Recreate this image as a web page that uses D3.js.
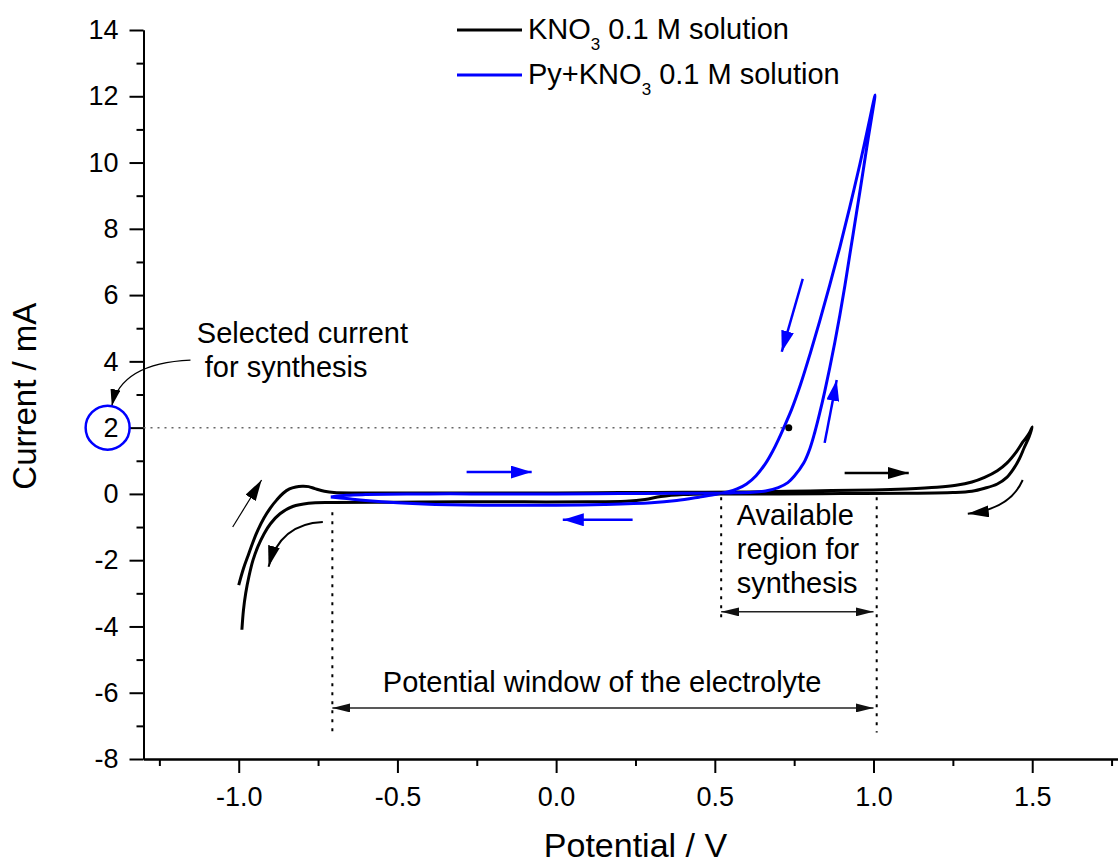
<!DOCTYPE html>
<html><head><meta charset="utf-8">
<script src="https://cdn.jsdelivr.net/npm/d3@7"></script>
<style>body{margin:0;background:#fff}svg{display:block;font-family:"Liberation Sans",Arial,sans-serif}</style>
</head><body><svg id="c" width="1118" height="865"></svg>
<script>
// ---- data ----
const kno3V = [-1.0,-0.985,-0.97,-0.955,-0.94,-0.92,-0.90,-0.88,-0.86,-0.84,-0.82,-0.80,-0.78,-0.76,-0.73,-0.70,-0.6,-0.4,-0.2,0.0,0.2,0.4,0.6,0.8,1.0,1.1,1.2,1.26,1.31,1.35,1.39,1.42,1.45,1.47,1.49,1.5,
  1.49,1.475,1.46,1.44,1.42,1.39,1.35,1.31,1.25,1.1,0.9,0.7,0.5,0.4,0.33,0.28,0.22,0.1,-0.1,-0.3,-0.5,-0.7,-0.78,-0.83,-0.87,-0.9,-0.92,-0.94,-0.955,-0.968,-0.978,-0.985,-0.99];
const kno3I = [-2.75,-2.25,-1.85,-1.45,-1.1,-0.72,-0.42,-0.18,0.02,0.15,0.21,0.23,0.22,0.16,0.08,0.04,0.03,0.03,0.03,0.03,0.04,0.05,0.06,0.09,0.12,0.15,0.2,0.26,0.36,0.5,0.7,0.93,1.27,1.56,1.82,2.02,
  1.72,1.4,1.07,0.74,0.5,0.3,0.17,0.08,0.04,0.02,0.01,0.0,0.0,-0.02,-0.08,-0.17,-0.22,-0.24,-0.24,-0.24,-0.25,-0.26,-0.28,-0.38,-0.6,-0.9,-1.2,-1.6,-2.0,-2.5,-3.0,-3.5,-4.1];
const pyV = [-0.71,-0.66,-0.6,-0.4,-0.2,0.0,0.2,0.4,0.55,0.62,0.66,0.70,0.73,0.75,0.78,0.80,0.815,0.83,0.846,0.862,0.878,0.894,0.91,0.925,0.941,0.957,0.97,0.983,0.995,1.005,
  0.98,0.957,0.925,0.894,0.862,0.83,0.80,0.77,0.742,0.715,0.70,0.683,0.66,0.63,0.60,0.57,0.54,0.5,0.45,0.38,0.3,0.15,0.0,-0.2,-0.4,-0.5,-0.6,-0.66,-0.71];
const pyI = [-0.09,-0.04,-0.02,0.0,0.0,0.0,0.01,0.02,0.03,0.05,0.09,0.19,0.34,0.53,0.93,1.38,1.86,2.42,3.08,3.8,4.57,5.4,6.3,7.2,8.16,9.12,9.92,10.72,11.42,12.04,
  10.95,9.95,8.65,7.45,6.3,5.2,4.22,3.3,2.55,1.95,1.63,1.3,0.92,0.55,0.3,0.15,0.06,-0.02,-0.1,-0.2,-0.27,-0.32,-0.34,-0.34,-0.31,-0.27,-0.2,-0.14,-0.09];
const seriesNames = ["KNO", "Py+KNO"];
const seriesSuffix = " 0.1 M solution";
const xMajorTicks = [-1.0,-0.5,0.0,0.5,1.0,1.5];
const xMinorTicks = [-1.25,-0.75,-0.25,0.25,0.75,1.25,1.75];
const yMajorTicks = [-8,-6,-4,-2,0,2,4,6,8,10,12,14];
const yMinorTicks = [-7,-5,-3,-1,1,3,5,7,9,11,13];
const selectedCurrent = 2;
const selectedPotential = 0.733;
const windowRange = [-0.705, 1.0];
const availableRange = [0.52, 1.0];

// ---- scales ----
const svg = d3.select("#c");
const x = d3.scaleLinear().domain([-1.3, 1.8]).range([143.5, 143.5 + 3.1*317.4]);
const y = d3.scaleLinear().domain([-8, 14]).range([759, 30]);
const BLUE = "#0000ff";
const FONT = "'Liberation Sans', Arial, sans-serif";

svg.append("rect").attr("width",1118).attr("height",865).attr("fill","#fff");

const defs = svg.append("defs");
function marker(id, color, len, wid) {
  defs.append("marker").attr("id", id).attr("markerUnits","userSpaceOnUse")
    .attr("viewBox", `0 0 ${len} ${wid}`).attr("refX", len).attr("refY", wid/2)
    .attr("markerWidth", len).attr("markerHeight", wid).attr("orient","auto-start-reverse")
    .append("path").attr("d", `M0,0L${len},${wid/2}L0,${wid}Z`).attr("fill", color);
}
marker("hk","#000",21,12);
marker("hb",BLUE,21,13);
marker("hs","#000",17,10);
marker("hd","#111",18,9);

// ---- axes ----
function styleAxis(g){ g.selectAll("path,line").attr("stroke","#000").attr("stroke-width",2); g.selectAll("text").attr("fill","#000").attr("font-family",FONT).attr("font-size",27); }
svg.append("g").attr("transform",`translate(${x(-1.3)},0)`)
  .call(d3.axisLeft(y).tickValues(yMinorTicks).tickSize(7).tickSizeOuter(0).tickFormat(""))
  .call(styleAxis);
svg.append("g").attr("transform",`translate(${x(-1.3)},0)`)
  .call(d3.axisLeft(y).tickValues(yMajorTicks).tickSize(14).tickSizeOuter(0).tickPadding(11).tickFormat(d=>String(d)))
  .call(styleAxis);
svg.append("g").attr("transform",`translate(0,${y(-8)})`)
  .call(d3.axisBottom(x).tickValues(xMinorTicks).tickSize(7).tickSizeOuter(0).tickFormat(""))
  .call(styleAxis);
svg.append("g").attr("transform",`translate(0,${y(-8)})`)
  .call(d3.axisBottom(x).tickValues(xMajorTicks).tickSize(14).tickSizeOuter(0).tickPadding(14).tickFormat(d=>d.toFixed(1)))
  .call(styleAxis);

svg.append("text").attr("transform",`translate(36,${y(2.95)}) rotate(-90)`).attr("text-anchor","middle")
  .attr("font-size",33).attr("font-family",FONT).text("Current / mA");
svg.append("text").attr("x",x(0.25)).attr("y",857).attr("text-anchor","middle")
  .attr("font-size",34).attr("font-family",FONT).text("Potential / V");

// ---- guide lines ----
svg.append("line").attr("x1",x(-1.3)).attr("x2",x(0.72)).attr("y1",y(selectedCurrent)).attr("y2",y(selectedCurrent))
  .attr("stroke","#666").attr("stroke-width",1.5).attr("stroke-dasharray","2,5");
[[windowRange[0],-0.55,-7.2],[availableRange[0],-0.1,-3.9],[1.01,-0.1,-7.2]].forEach(([v,a,b])=>{
  svg.append("line").attr("x1",x(v)).attr("x2",x(v)).attr("y1",y(a)).attr("y2",y(b))
    .attr("stroke","#000").attr("stroke-width",2).attr("stroke-dasharray","3,6");
});

// ---- data curves ----
const line = d3.line().x(d=>x(d[0])).y(d=>y(d[1])).curve(d3.curveCatmullRom.alpha(0.5));
svg.append("path").attr("d", line(kno3V.map((v,i)=>[v,kno3I[i]]))).attr("fill","none").attr("stroke","#000").attr("stroke-width",3).attr("stroke-linejoin","round");
svg.append("path").attr("d", line(pyV.map((v,i)=>[v,pyI[i]]))).attr("fill","none").attr("stroke",BLUE).attr("stroke-width",3).attr("stroke-linejoin","round");

svg.append("circle").attr("cx",x(selectedPotential)).attr("cy",y(selectedCurrent)).attr("r",3.5).attr("fill","#000");

// ---- arrows ----
function arrow(pts, color, w, mk, start){
  const p = d3.path();
  p.moveTo(x(pts[0][0]),y(pts[0][1]));
  if (pts.length===2) p.lineTo(x(pts[1][0]),y(pts[1][1]));
  else p.quadraticCurveTo(x(pts[1][0]),y(pts[1][1]),x(pts[2][0]),y(pts[2][1]));
  const el = svg.append("path").attr("d",p.toString()).attr("fill","none").attr("stroke",color).attr("stroke-width",w).attr("marker-end",`url(#${mk})`);
  if (start) el.attr("marker-start",`url(#${mk})`);
}
arrow([[-0.282,0.66],[-0.077,0.66]], BLUE, 2.5, "hb");
arrow([[0.241,-0.78],[0.021,-0.78]], BLUE, 2.5, "hb");
arrow([[0.777,6.49],[0.711,4.29]], BLUE, 2.5, "hb");
arrow([[0.846,1.54],[0.884,3.44]], BLUE, 2.5, "hb");
arrow([[0.909,0.63],[1.111,0.63]], "#000", 2.5, "hk");
arrow([[1.470,0.42],[1.43,-0.45],[1.297,-0.6]], "#000", 2, "hk");
arrow([[-1.019,-1.0],[-0.928,0.42]], "#000", 1.2, "hk");
arrow([[-0.735,-0.85],[-0.87,-0.9],[-0.906,-2.2]], "#000", 2, "hk");
arrow([[-1.152,4.04],[-1.37,3.95],[-1.40,2.65]], "#000", 1.2, "hs");
arrow([[windowRange[0],-6.46],[windowRange[1],-6.46]], "#222", 1.5, "hd", true);
arrow([[availableRange[0],-3.56],[availableRange[1],-3.56]], "#222", 1.5, "hd", true);

// circle around "2"
svg.append("circle").attr("cx",x(-1.413)).attr("cy",y(selectedCurrent)).attr("r",22)
  .attr("fill","none").attr("stroke",BLUE).attr("stroke-width",2.5);

// ---- annotation texts ----
function txt(v,i,s,anchor){ svg.append("text").attr("x",x(v)).attr("y",y(i)).attr("font-size",29).attr("font-family",FONT).attr("text-anchor",anchor||"start").text(s); }
txt(-1.132,4.556,"Selected current");
txt(-1.107,3.53,"for synthesis");
txt(0.569,-0.936,"Available");
txt(0.569,-1.96,"region for");
txt(0.569,-2.99,"synthesis");
txt(-0.546,-5.975,"Potential window of the electrolyte");

// ---- legend ----
const legColors = ["#000", BLUE];
seriesNames.forEach((nm,k)=>{
  const ly = 30 + k*45;
  svg.append("line").attr("x1",457).attr("x2",522).attr("y1",ly).attr("y2",ly).attr("stroke",legColors[k]).attr("stroke-width",3);
  const t = svg.append("text").attr("x",528).attr("y",ly+9).attr("font-size",29).attr("font-family",FONT);
  t.append("tspan").text(nm);
  t.append("tspan").attr("font-size",17).attr("dy",11).text("3");
  t.append("tspan").attr("dy",-11).text(seriesSuffix);
});
</script></body></html>
